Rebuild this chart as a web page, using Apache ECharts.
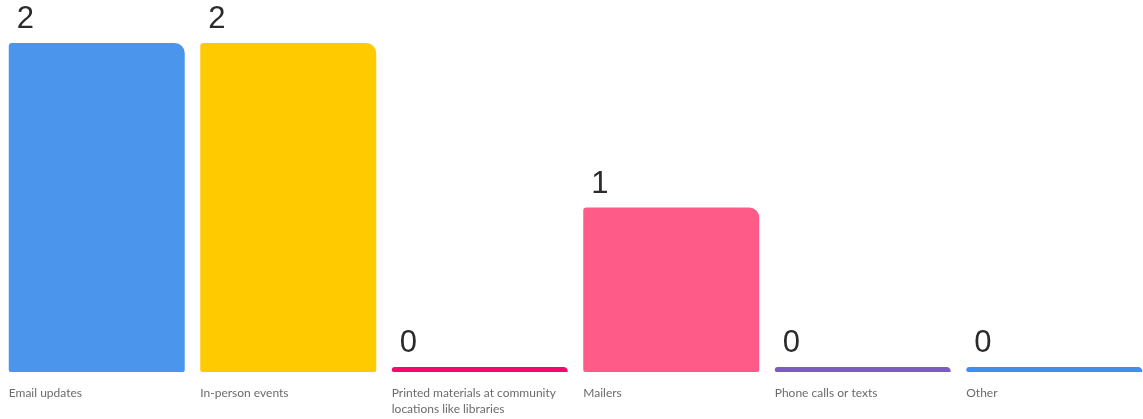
<!DOCTYPE html>
<html>
<head>
<meta charset="utf-8">
<script src="https://cdn.jsdelivr.net/npm/echarts@6/dist/echarts.min.js"></script>
<style>
  html, body { margin: 0; padding: 0; background: #ffffff; }
  #chart { width: 1143px; height: 419px; }
</style>
</head>
<body>
<div id="chart"></div>
<script>
// Survey responses: preferred ways to hear about updates
const categories = [
  'Email updates',
  'In-person events',
  'Printed materials at community\nlocations like libraries',
  'Mailers',
  'Phone calls or texts',
  'Other'
];
const counts = [2, 2, 0, 1, 0, 0];
const barColors = ['#4b96ec', '#ffca00', '#f8076c', '#ff5b89', '#7a5cc2', '#3f90ea'];

const chart = echarts.init(document.getElementById('chart'), null, { renderer: 'canvas' });

const barData = counts.map((v, i) => ({
  value: v,
  itemStyle: { color: barColors[i] }
}));

chart.setOption({
  animation: false,
  backgroundColor: '#ffffff',
  grid: {
    left: 1, top: 43, width: 1149, bottom: 47,
    containLabel: false,
    outerBoundsMode: 'none'
  },
  xAxis: {
    type: 'category',
    data: categories,
    axisLine: { show: false },
    axisTick: { show: false },
    axisLabel: { show: false },
    splitLine: { show: false }
  },
  yAxis: {
    type: 'value',
    min: 0,
    max: 2,
    show: false,
    splitLine: { show: false }
  },
  series: [
    {
      // bars with their counts written above the top-left corner
      type: 'bar',
      data: barData,
      barWidth: 176,
      barMinHeight: 5,
      itemStyle: { borderRadius: [3, 10, 2, 2] },
      label: {
        show: true,
        position: [8, -8],
        align: 'left',
        verticalAlign: 'bottom',
        fontFamily: 'Liberation Sans, Arial, sans-serif',
        fontSize: 31,
        color: '#2b2b2b',
        formatter: p => String(p.value)
      },
      z: 3
    },
    {
      // transparent twin carrying the category names under each bar
      type: 'bar',
      data: counts,
      barWidth: 176,
      barGap: '-100%',
      barMinHeight: 5,
      silent: true,
      itemStyle: { color: 'rgba(0,0,0,0)' },
      label: {
        show: true,
        position: [0, '100%'],
        offset: [0, 13],
        align: 'left',
        verticalAlign: 'top',
        fontFamily: 'Lato, "Noto Sans", sans-serif',
        fontSize: 12,
        lineHeight: 16,
        color: '#6b6b6b',
        formatter: p => categories[p.dataIndex]
      },
      z: 2
    }
  ]
});
</script>
</body>
</html>
